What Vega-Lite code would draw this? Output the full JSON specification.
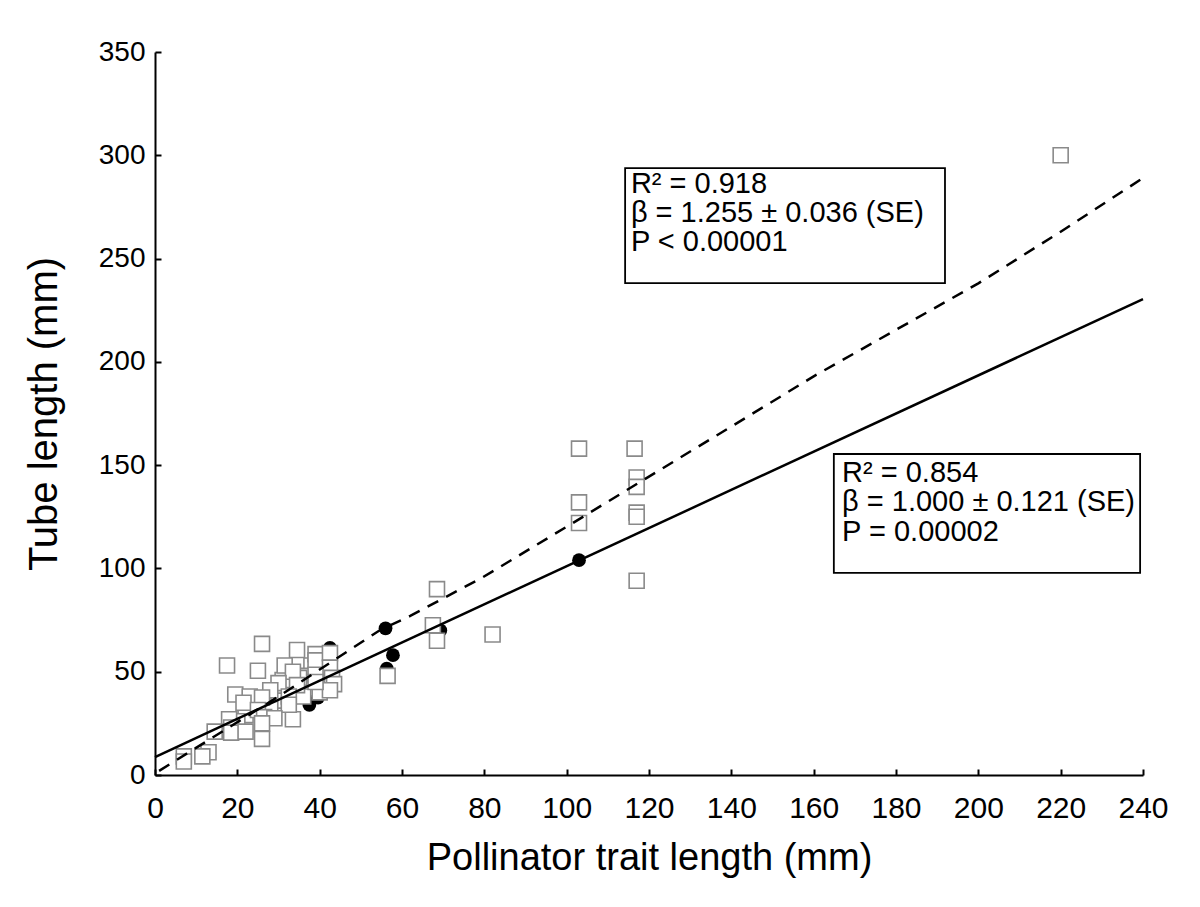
{
  "$schema": "https://vega.github.io/schema/vega-lite/v6.json",
  "width": 988,
  "height": 723,
  "autosize": "none",
  "padding": {"left": 155, "top": 52, "right": 57, "bottom": 132},
  "background": "white",
  "config": {
    "view": {"stroke": null},
    "font": "Liberation Sans",
    "axis": {"grid": false, "labelFlush": false, "domainColor": "black", "domainWidth": 2, "tickColor": "black", "tickWidth": 2, "labelColor": "black", "titleColor": "black", "titleFontWeight": "normal"}
  },
  "datasets": {
    "squares": [
      {"x": 220, "y": 300}, {"x": 103, "y": 158}, {"x": 103, "y": 132}, {"x": 103, "y": 122},
      {"x": 116.5, "y": 158}, {"x": 117, "y": 144}, {"x": 117, "y": 139.5}, {"x": 117, "y": 127}, {"x": 117, "y": 125}, {"x": 117, "y": 94},
      {"x": 68.5, "y": 90}, {"x": 82, "y": 68}, {"x": 67.5, "y": 72.5}, {"x": 68.5, "y": 65}, {"x": 56.5, "y": 48},
      {"x": 38, "y": 53}, {"x": 36, "y": 48}, {"x": 41, "y": 47}, {"x": 37, "y": 42}, {"x": 35, "y": 47},
      {"x": 24, "y": 35}, {"x": 30, "y": 36}, {"x": 28, "y": 32}, {"x": 22, "y": 29}, {"x": 20, "y": 26},
      {"x": 36, "y": 38}, {"x": 40, "y": 40}, {"x": 31, "y": 46},
      {"x": 26, "y": 63.5}, {"x": 17.5, "y": 53}, {"x": 25, "y": 50.5}, {"x": 34.5, "y": 60.5}, {"x": 31.5, "y": 53},
      {"x": 39, "y": 58.5}, {"x": 39, "y": 55.5}, {"x": 42.5, "y": 59}, {"x": 42.5, "y": 52}, {"x": 43, "y": 47},
      {"x": 43.5, "y": 44}, {"x": 42.5, "y": 41}, {"x": 39, "y": 48.5}, {"x": 39, "y": 45}, {"x": 33.5, "y": 50},
      {"x": 34.5, "y": 43.5}, {"x": 30, "y": 44.5}, {"x": 28, "y": 41}, {"x": 32.5, "y": 38}, {"x": 33.5, "y": 27},
      {"x": 32.5, "y": 34}, {"x": 19.5, "y": 39}, {"x": 23, "y": 38}, {"x": 26, "y": 37.5}, {"x": 21.5, "y": 35},
      {"x": 25, "y": 31.5}, {"x": 26.5, "y": 28}, {"x": 29, "y": 27.5}, {"x": 26, "y": 25}, {"x": 26, "y": 17.5},
      {"x": 18, "y": 27}, {"x": 18.5, "y": 23}, {"x": 18.5, "y": 20.5}, {"x": 22, "y": 21}, {"x": 14.5, "y": 21},
      {"x": 13, "y": 11}, {"x": 11.5, "y": 9}, {"x": 7, "y": 9}, {"x": 7, "y": 6.5}
    ],
    "circles": [
      {"x": 56, "y": 71}, {"x": 57.8, "y": 58}, {"x": 56.3, "y": 51.5}, {"x": 69.3, "y": 70},
      {"x": 103, "y": 104}, {"x": 42.5, "y": 61.5}, {"x": 37.5, "y": 34}, {"x": 39.6, "y": 37.5}
    ],
    "solid": [{"x": 0, "y": 8.7}, {"x": 240, "y": 230.4}],
    "dashed": [
      {"x": 1, "y": 2}, {"x": 30, "y": 38}, {"x": 54.7, "y": 70.2}, {"x": 62, "y": 77}, {"x": 79.7, "y": 95.8},
      {"x": 101.5, "y": 122}, {"x": 117.8, "y": 141.8}, {"x": 151.8, "y": 183}, {"x": 160, "y": 193},
      {"x": 200, "y": 238}, {"x": 220, "y": 263}, {"x": 240, "y": 289}
    ],
    "boxes": [
      {"x": 114.2, "x2": 191.9, "y": 293.8, "y2": 238.1, "kind": "dashed"},
      {"x": 164.9, "x2": 239.3, "y": 155.4, "y2": 97.8, "kind": "solid"}
    ],
    "labels": [
      {"x": 115.6, "y": 286.1, "t": "R² = 0.918"},
      {"x": 115.6, "y": 272.0, "t": "β = 1.255 ± 0.036 (SE)"},
      {"x": 115.6, "y": 258.0, "t": "P < 0.00001"},
      {"x": 166.9, "y": 146.2, "t": "R² = 0.854"},
      {"x": 166.9, "y": 132.1, "t": "β = 1.000 ± 0.121 (SE)"},
      {"x": 166.9, "y": 117.6, "t": "P = 0.00002"}
    ]
  },
  "layer": [
    {
      "data": {"name": "circles"},
      "mark": {"type": "point", "shape": "circle", "filled": true, "color": "black", "size": 190, "opacity": 1},
      "encoding": {
        "x": {"field": "x", "type": "quantitative", "scale": {"domain": [0, 240], "nice": false},
          "axis": {"values": [0,20,40,60,80,100,120,140,160,180,200,220,240], "tickSize": -6, "labelPadding": 24, "labelFontSize": 30, "title": "Pollinator trait length (mm)", "titleFontSize": 38, "titlePadding": 16}},
        "y": {"field": "y", "type": "quantitative", "scale": {"domain": [0, 350], "nice": false},
          "axis": {"values": [0,50,100,150,200,250,300,350], "tickSize": -6, "labelPadding": 16, "labelFontSize": 28, "title": "Tube length (mm)", "titleFontSize": 40, "titlePadding": 34}}
      }
    },
    {
      "data": {"name": "squares"},
      "mark": {"type": "point", "shape": "square", "filled": false, "fill": "white", "fillOpacity": 1, "stroke": "#8a8a8a", "strokeWidth": 1.6, "size": 225, "opacity": 1},
      "encoding": {"x": {"field": "x", "type": "quantitative"}, "y": {"field": "y", "type": "quantitative"}}
    },
    {
      "data": {"name": "solid"},
      "mark": {"type": "line", "color": "black", "strokeWidth": 2.5},
      "encoding": {"x": {"field": "x", "type": "quantitative"}, "y": {"field": "y", "type": "quantitative"}}
    },
    {
      "data": {"name": "dashed"},
      "mark": {"type": "line", "color": "black", "strokeWidth": 2.5, "strokeDash": [12, 9]},
      "encoding": {"x": {"field": "x", "type": "quantitative"}, "y": {"field": "y", "type": "quantitative"}}
    },
    {
      "data": {"name": "boxes"},
      "mark": {"type": "rect", "fill": null, "stroke": "black", "strokeWidth": 1.8},
      "encoding": {
        "x": {"field": "x", "type": "quantitative"}, "x2": {"field": "x2"},
        "y": {"field": "y", "type": "quantitative"}, "y2": {"field": "y2"},
        "strokeDash": {"field": "kind", "type": "nominal", "scale": {"domain": ["dashed", "solid"], "range": [[6, 5], [1, 0]]}, "legend": null}
      }
    },
    {
      "data": {"name": "labels"},
      "mark": {"type": "text", "align": "left", "baseline": "middle", "fontSize": 29, "color": "black"},
      "encoding": {"x": {"field": "x", "type": "quantitative"}, "y": {"field": "y", "type": "quantitative"}, "text": {"field": "t"}}
    }
  ]
}
